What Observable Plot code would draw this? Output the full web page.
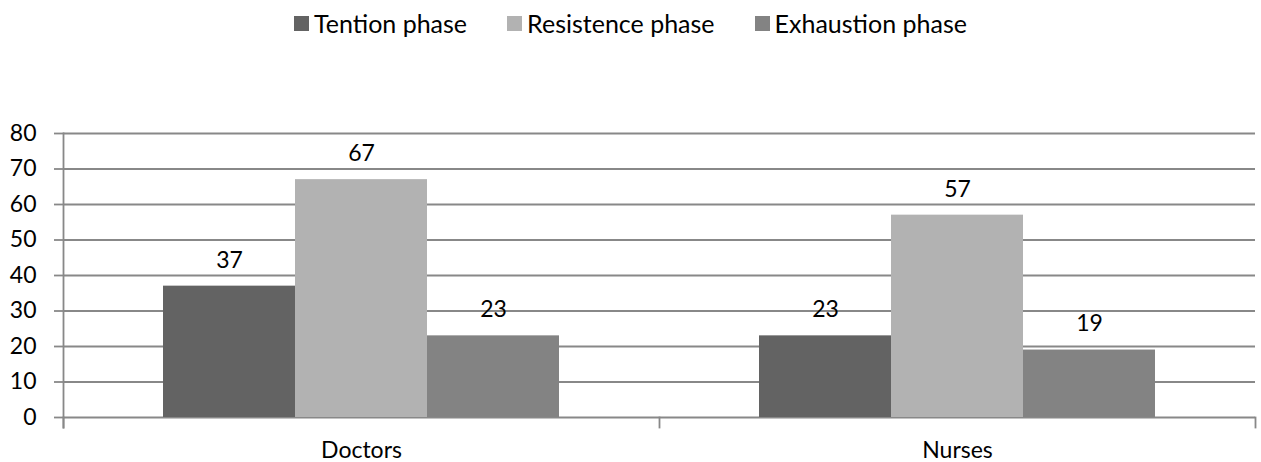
<!DOCTYPE html>
<html><head><meta charset="utf-8">
<script src="https://cdn.jsdelivr.net/npm/d3@7"></script>
<script src="https://cdn.jsdelivr.net/npm/@observablehq/plot@0.6"></script>
<style>
html,body{margin:0;padding:0;background:#fff;overflow:hidden;font-family:Lato,"Open Sans",sans-serif;}
#legend{display:flex;justify-content:center;align-items:center;height:40px;padding-top:6px;box-sizing:border-box;gap:40px;font-size:25px;color:#000;}
#legend .item{display:flex;align-items:center;gap:5px;}
#legend .sw{width:15px;height:15px;display:inline-block;}
#chart svg{display:block;}
</style></head><body>
<div id="legend"></div>
<div id="chart"></div>
<script>
const groups = ["Doctors", "Nurses"];
const series = ["Tention phase", "Resistence phase", "Exhaustion phase"];
const doctorsValues = [37, 67, 23];
const nursesValues = [23, 57, 19];
const yTicks = [0, 10, 20, 30, 40, 50, 60, 70, 80];
const colors = ["#636363", "#b2b2b2", "#838383"];

const valuesByGroup = [doctorsValues, nursesValues];
const data = groups.flatMap((g, gi) => series.map((s, si) => ({group: g, series: s, value: valuesByGroup[gi][si]})));

const legend = document.getElementById("legend");
series.forEach((s, i) => {
  const item = document.createElement("span");
  item.className = "item";
  const sw = document.createElement("span");
  sw.className = "sw";
  sw.style.background = colors[i];
  const t = document.createElement("span");
  t.textContent = s;
  item.appendChild(sw); item.appendChild(t);
  legend.appendChild(item);
});

const axisColor = "#888888";
const plot = Plot.plot({
  width: 1261, height: 422,
  marginTop: 93, marginBottom: 45, marginLeft: 62, marginRight: 6,
  style: {fontFamily: "Lato, 'Open Sans', sans-serif", fontSize: "23px", color: "#000", background: "#fff"},
  fx: {domain: groups, padding: 0, label: null},
  x: {domain: series, paddingInner: 0, paddingOuter: 0.745, axis: null},
  y: {domain: [0, 80], ticks: yTicks, label: null},
  color: {domain: series, range: colors},
  marks: [
    Plot.ruleY(yTicks, {stroke: axisColor, strokeWidth: 1.8}),
    Plot.barY(data, {fx: "group", x: "series", y: "value", fill: "series", inset: 0}),
    Plot.text(data, {fx: "group", x: "series", y: "value", text: d => String(d.value), dy: -26, fontSize: 23, fill: "#000"}),
    Plot.axisY({ticks: yTicks, tickSize: 9, tickPadding: 18, stroke: axisColor, strokeWidth: 1.8, fill: "#000", fontSize: 23, label: null}),
    Plot.axisFx({anchor: "bottom", tickSize: 0, tickPadding: 24, label: null, fontSize: 23, fill: "#000"}),
    Plot.frame({anchor: "left", facetAnchor: "left", stroke: axisColor, strokeWidth: 1.8, insetBottom: -10}),
    Plot.frame({anchor: "left", stroke: axisColor, strokeWidth: 1.8, insetTop: 284, insetBottom: -10}),
    Plot.frame({anchor: "right", facetAnchor: "right", stroke: axisColor, strokeWidth: 1.8, insetTop: 284, insetBottom: -10})
  ]
});
document.getElementById("chart").appendChild(plot);
</script>
</body></html>
